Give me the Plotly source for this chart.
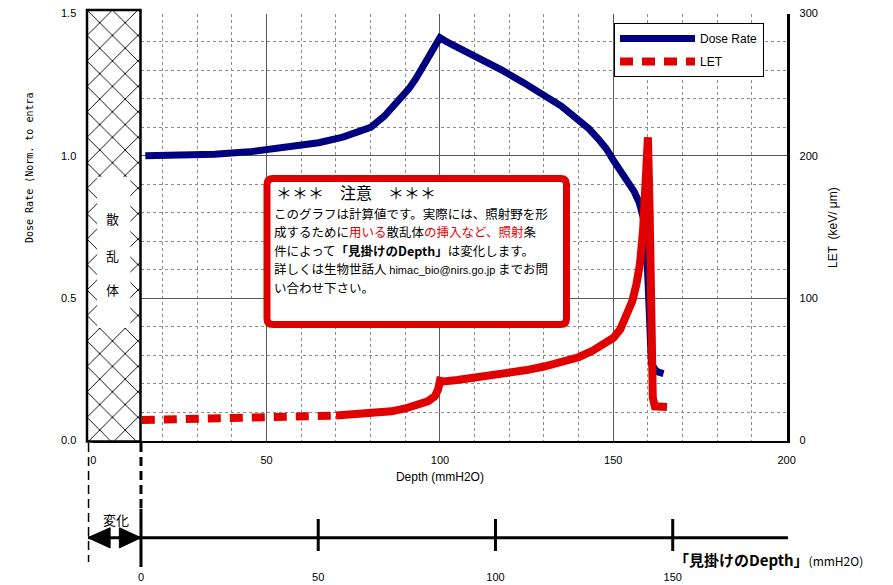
import plotly.graph_objects as go

W, H = 893, 585

def px_x(p):
    return p / W

def px_y(p):
    return 1 - p / H

# ---------------- data ----------------
dose_x = [15, 25, 35, 45, 55, 65, 72, 76, 80, 84, 88.6, 91, 93, 94.5, 96.5,
          98, 99.3, 100, 102, 106, 112, 118, 124, 130, 135, 140, 143, 146, 148,
          150, 152, 154, 156, 157.5, 158.6, 159.5, 160.2, 160.6, 161, 162,
          163, 164.5]
dose_y = [1.0, 1.001, 1.006, 1.014, 1.027, 1.046, 1.066, 1.08, 1.10, 1.14,
          1.20, 1.235, 1.27, 1.30, 1.335, 1.365, 1.395, 1.415, 1.40, 1.375,
          1.34, 1.30, 1.258, 1.215, 1.175, 1.125, 1.095, 1.055, 1.025, 0.985,
          0.95, 0.915, 0.875, 0.835, 0.785, 0.71, 0.55, 0.38, 0.27, 0.25,
          0.24, 0.235]

let_x = [14, 30, 50, 70, 80, 86, 90, 94, 96.5, 98.5, 99.5, 100, 101, 105,
         110, 115, 120, 125, 130, 135, 140, 144, 147, 150, 152, 154, 155.5,
         156.7, 157.7, 158.6, 159.3, 160, 160.5, 161, 161.4, 162, 165.5]
let_y = [14.4, 15, 15.8, 17.5, 19, 20.5, 22.5, 25, 27.5, 31, 36, 42, 41.5,
         42.5, 44, 45.8, 47.5, 49.5, 52, 55, 58.5, 63, 67.5, 72, 78, 88, 98,
         110, 124, 148, 175, 213, 160, 80, 30, 24, 23.5]
let_dash_end = 70  # depth where the dashed look of the LET line ends

depth_ticks = [0, 50, 100, 150, 200]
dose_ticks = [0, 0.5, 1.0, 1.5]
let_ticks = [0, 100, 200, 300]
apparent_ticks = [0, 50, 100, 150]
scatterer_mm = 15
apparent_axis_end = 182.5

NAVY = "#000080"
RED = "#e00000"
FONT = "Liberation Sans"
JP = "Noto Sans CJK JP"

k = let_x.index(let_dash_end)

fig = go.Figure()
fig.add_trace(go.Scatter(x=dose_x, y=dose_y, mode="lines", name="Dose Rate",
                         legendgroup="dose",
                         line=dict(color=NAVY, width=7), xaxis="x", yaxis="y"))
fig.add_trace(go.Scatter(x=let_x[:k + 1], y=let_y[:k + 1], mode="lines", name="LET",
                         legendgroup="let",
                         line=dict(color=RED, width=8, dash="13px,9px"),
                         xaxis="x", yaxis="y2"))
fig.add_trace(go.Scatter(x=let_x[k:], y=let_y[k:], mode="lines", showlegend=False,
                         legendgroup="let",
                         line=dict(color=RED, width=8), xaxis="x", yaxis="y2"))
# hatched scatterer block
fig.add_trace(go.Scatter(x=[0, 1, 1, 0, 0], y=[0, 0, 1, 1, 0], mode="lines",
                         fill="toself", showlegend=False, hoverinfo="skip",
                         line=dict(width=0, color="black"),
                         fillcolor="white",
                         fillpattern=dict(shape="x", size=18, solidity=0.1,
                                          fgcolor="black", bgcolor="white"),
                         xaxis="x3", yaxis="y4"))

main_xdom = [px_x(93.3), px_x(786.6)]
main_ydom = [px_y(440.5), px_y(13.5)]

fig.update_layout(
    template="none",
    width=W, height=H,
    margin=dict(l=0, r=0, t=0, b=0, pad=0, autoexpand=False),
    paper_bgcolor="white", plot_bgcolor="white",
    font=dict(family=FONT, size=11, color="black"),
    xaxis=dict(domain=main_xdom, range=[0, 200], tickvals=depth_ticks,
               showgrid=True, gridcolor="#5a5a5a", gridwidth=1,
               minor=dict(dtick=10, showgrid=True, gridcolor="#8c8c8c",
                          griddash="dot", gridwidth=1),
               showline=True, linecolor="black", linewidth=2, zeroline=False,
               ticks="", ticklabelstandoff=8, anchor="y", automargin=False,
               title=dict(text="Depth (mmH2O)", font=dict(size=12), standoff=8)),
    yaxis=dict(domain=main_ydom, range=[0, 1.5], tickvals=dose_ticks,
               tickformat=".1f", showgrid=True, gridcolor="#5a5a5a", gridwidth=1,
               minor=dict(dtick=0.1, showgrid=True, gridcolor="#8c8c8c",
                          griddash="dot", gridwidth=1),
               showline=False, zeroline=False, ticks="", ticklabelstandoff=16,
               anchor="x", automargin=False),
    yaxis2=dict(overlaying="y", side="right", range=[0, 300],
                tickvals=let_ticks, showgrid=False, zeroline=False,
                showline=True, linecolor="black", linewidth=2.5, ticks="",
                ticklabelstandoff=8, anchor="x", automargin=False),
    xaxis2=dict(domain=[px_x(87.8), px_x(796.8)], range=[-scatterer_mm, 185],
                tickvals=apparent_ticks, showgrid=False, showline=False,
                zeroline=False, ticks="", anchor="y3", ticklabelstandoff=2,
                automargin=False),
    yaxis3=dict(domain=[px_y(567), px_y(508.4)], range=[0, 1], visible=False,
                anchor="x2", automargin=False),
    xaxis3=dict(domain=[px_x(87), px_x(140.5)], range=[0, 1], visible=False,
                anchor="y4", automargin=False),
    yaxis4=dict(domain=[px_y(441.5), px_y(10)], range=[0, 1], visible=False,
                anchor="x3", automargin=False),
    legend=dict(x=px_x(614), y=px_y(23), xanchor="left", yanchor="top",
                bgcolor="white", bordercolor="black", borderwidth=1,
                font=dict(family=FONT, size=12), itemwidth=75,
                tracegroupgap=4, traceorder="grouped"),
    showlegend=True,
)

shapes = []
# scatterer block border and label window
shapes.append(dict(type="rect", xref="x3 domain", yref="y4 domain", x0=0, x1=1,
                   y0=0, y1=1, line=dict(color="black", width=2.5)))
shapes.append(dict(type="rect", xref="x3 domain", yref="y4 domain", x0=0.19,
                   x1=0.81, y0=0.263, y1=0.613, fillcolor="white",
                   line=dict(width=0)))
# note box with rounded corners
bx0, bx1 = px_x(267), px_x(566.5)
by0, by1 = px_y(324.5), px_y(178.5)
rx, ry = 6 / W, 6 / H
note_path = (f"M {bx0 + rx},{by0} L {bx1 - rx},{by0} Q {bx1},{by0} {bx1},{by0 + ry} "
             f"L {bx1},{by1 - ry} Q {bx1},{by1} {bx1 - rx},{by1} "
             f"L {bx0 + rx},{by1} Q {bx0},{by1} {bx0},{by1 - ry} "
             f"L {bx0},{by0 + ry} Q {bx0},{by0} {bx0 + rx},{by0} Z")
shapes.append(dict(type="path", xref="paper", yref="paper", path=note_path,
                   fillcolor="white", line=dict(color="#dd0000", width=7)))
# apparent-depth axis line
shapes.append(dict(type="line", xref="x2", yref="y3", x0=-scatterer_mm,
                   x1=apparent_axis_end, y0=0.5, y1=0.5,
                   line=dict(color="black", width=3)))
for v in apparent_ticks:
    if v == 0:
        y0, y1 = 0.0, 1.0
    else:
        y0, y1 = 0.273, 0.819
    shapes.append(dict(type="line", xref="x2", yref="y3", x0=v, x1=v, y0=y0, y1=y1,
                       line=dict(color="black", width=3)))
# double arrow heads
tip_l, base_l = -scatterer_mm, -scatterer_mm + 6.3
tip_r, base_r = 0, -6.1
shapes.append(dict(type="path", xref="x2", yref="y3",
                   path=f"M {tip_l},0.5 L {base_l},0.67 L {base_l},0.325 Z",
                   fillcolor="black", line=dict(color="black", width=1)))
shapes.append(dict(type="path", xref="x2", yref="y3",
                   path=f"M {tip_r},0.5 L {base_r},0.67 L {base_r},0.325 Z",
                   fillcolor="black", line=dict(color="black", width=1)))
# dashed guide lines
shapes.append(dict(type="line", xref="x2", yref="paper", x0=-scatterer_mm,
                   x1=-scatterer_mm, y0=px_y(443), y1=px_y(562),
                   line=dict(color="black", width=3, dash="9px,5px")))
shapes.append(dict(type="line", xref="x2", yref="paper", x0=0, x1=0,
                   y0=px_y(443), y1=px_y(509),
                   line=dict(color="black", width=3, dash="9px,5px")))
fig.update_layout(shapes=shapes)


def ann(text, x, y, size, family=JP, xanchor="center", yanchor="middle", **kw):
    return dict(text=text, x=px_x(x), y=px_y(y), xref="paper", yref="paper",
                xanchor=xanchor, yanchor=yanchor, showarrow=False,
                font=dict(family=family, size=size), **kw)


annotations = []
annotations.append(ann("Dose Rate (Norm. to entra", 29, 168, 10,
                       family="DejaVu Sans Mono", textangle=-90))
annotations.append(ann("LET  (keV/ μm)", 833, 228, 12, family=FONT, textangle=-90))
for ch, yy in zip(["散", "乱", "体"], [218, 255, 289]):
    annotations.append(ann(ch, 112, yy, 13))
annotations.append(ann("＊＊＊　注意　＊＊＊", 275, 192, 16, xanchor="left",
                       borderpad=0))
red = "color:#e60000"
note_lines = [
    "このグラフは計算値です。実際には、照射野を形",
    f"成するために<span style='{red}'>用いる</span>散乱体"
    f"<span style='{red}'>の挿入など、照射</span>条",
    "件によって<b>「見掛けのDepth」</b>は変化します。",
    "詳しくは生物世話人 <span style='font-family:Liberation Sans;font-size:11px'>"
    "himac_bio@nirs.go.jp</span> までお問",
    "い合わせ下さい。",
]
note_line_y = [213.5, 232, 250.5, 269, 287.5]
for line, yy in zip(note_lines, note_line_y):
    annotations.append(ann(line, 273, yy, 12.5, xanchor="left", borderpad=0))
annotations.append(ann("変化", 116, 519, 13))
annotations.append(ann("<b>「見掛けのDepth」</b><span style='font-size:12px'>(mmH2O)</span>",
                       672, 559, 15, xanchor="left"))
fig.update_layout(annotations=annotations)

fig.write_html("out.html", config={"displayModeBar": False},
               post_script="document.body.style.margin='0px';")
